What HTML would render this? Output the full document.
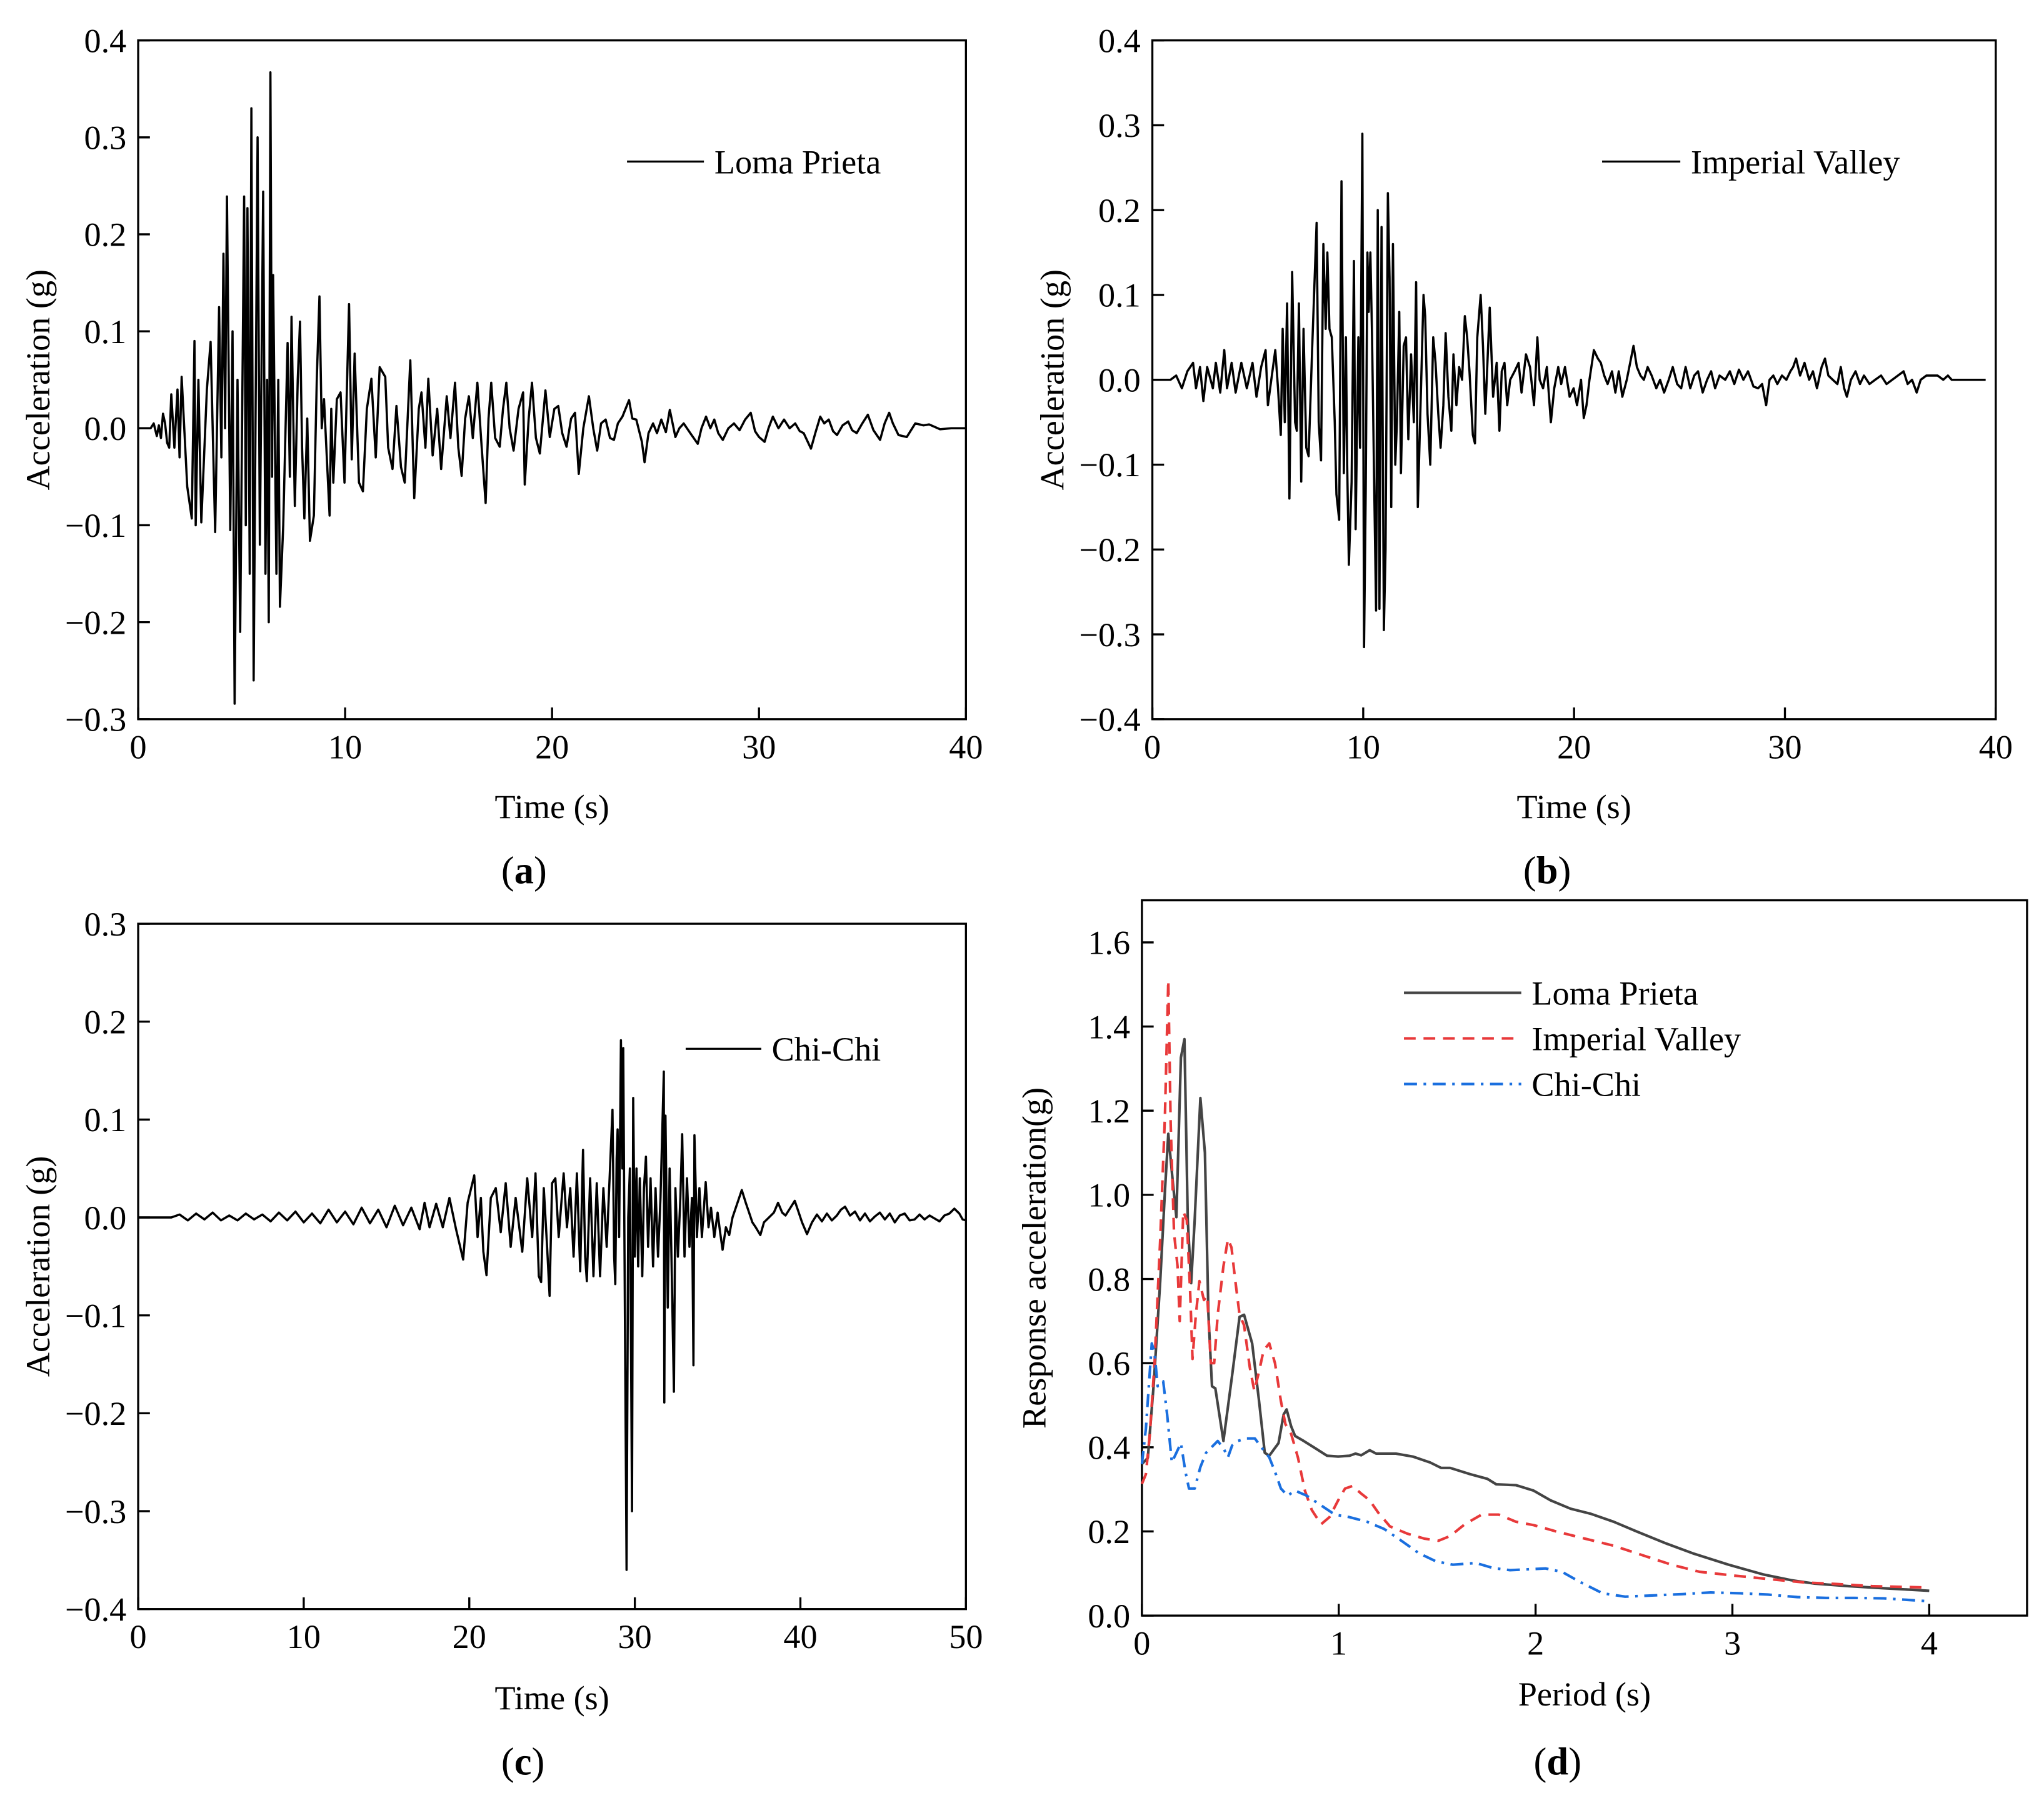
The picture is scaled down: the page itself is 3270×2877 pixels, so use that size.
<!DOCTYPE html>
<html><head><meta charset="utf-8"><style>
html,body{margin:0;padding:0;background:#fff;}
svg{display:block;}
text{font-family:"Liberation Serif",serif;fill:#000;}
</style></head><body>
<svg id="fig" xmlns="http://www.w3.org/2000/svg" width="3270" height="2877" viewBox="0 0 1568 1380" preserveAspectRatio="none">
<rect width="1568" height="1380" fill="#fff"/>
</svg>
<script>
// ---- Panel (a) Loma Prieta ----
const laTime=[0,0.6,0.75,0.9,1.0,1.1,1.2,1.3,1.4,1.5,1.6,1.75,1.9,2.0,2.10,2.37,2.59,2.72,2.78,2.91,3.05,3.32,3.50,3.72,3.91,4.02,4.12,4.20,4.29,4.45,4.56,4.66,4.80,4.93,5.12,5.20,5.28,5.39,5.47,5.58,5.77,5.88,6.04,6.15,6.23,6.31,6.39,6.47,6.52,6.68,6.77,6.85,7.01,7.22,7.33,7.41,7.57,7.71,7.82,7.92,8.03,8.17,8.30,8.49,8.63,8.76,8.87,8.98,9.25,9.33,9.43,9.60,9.78,9.97,10.19,10.32,10.46,10.67,10.86,11.05,11.27,11.48,11.67,11.94,12.08,12.29,12.48,12.70,12.88,13.15,13.34,13.56,13.69,13.88,14.02,14.23,14.45,14.64,14.91,15.09,15.31,15.47,15.63,15.80,15.98,16.17,16.39,16.60,16.79,16.93,17.06,17.25,17.47,17.63,17.79,17.95,18.14,18.38,18.60,18.68,18.87,19.03,19.22,19.41,19.68,19.89,20.11,20.30,20.49,20.70,20.92,21.11,21.29,21.51,21.78,21.99,22.18,22.37,22.59,22.80,22.99,23.18,23.40,23.72,23.88,24.07,24.34,24.47,24.66,24.88,25.07,25.28,25.50,25.69,25.96,26.15,26.36,26.68,27.04,27.22,27.44,27.65,27.84,28.03,28.25,28.52,28.79,29.06,29.33,29.60,29.81,30.00,30.27,30.46,30.67,30.94,31.21,31.48,31.75,31.97,32.16,32.51,32.72,32.96,33.15,33.37,33.58,33.77,34.04,34.31,34.50,34.72,34.99,35.26,35.53,35.85,36.07,36.29,36.47,36.74,37.14,37.55,37.95,38.22,38.75,39.29,40.0];
const laAcc=[0,0,0.005,-0.008,0.003,-0.01,0.015,0.005,-0.015,-0.02,0.035,-0.02,0.04,-0.03,0.053,-0.06,-0.093,0.09,-0.10,0.05,-0.097,0.04,0.089,-0.107,0.125,-0.03,0.18,0.0,0.239,-0.105,0.1,-0.284,0.05,-0.21,0.239,-0.1,0.227,-0.15,0.33,-0.26,0.30,-0.12,0.244,-0.15,0.05,-0.2,0.367,-0.05,0.158,-0.15,0.05,-0.184,-0.1,0.088,-0.05,0.115,-0.08,0.05,0.11,-0.02,-0.093,0.01,-0.116,-0.09,0.05,0.136,0.0,0.03,-0.09,0.02,-0.056,0.03,0.037,-0.056,0.128,-0.032,0.077,-0.056,-0.065,0.02,0.051,-0.03,0.063,0.053,-0.02,-0.042,0.023,-0.04,-0.056,0.07,-0.072,0.02,0.037,-0.02,0.051,-0.028,0.02,-0.042,0.033,-0.01,0.047,-0.02,-0.049,0.01,0.033,-0.01,0.047,-0.02,-0.077,0.01,0.047,-0.01,-0.019,0.02,0.047,0.0,-0.023,0.02,0.037,-0.058,0.01,0.047,-0.01,-0.026,0.039,-0.009,0.02,0.023,-0.005,-0.019,0.01,0.016,-0.047,0.0,0.033,0.0,-0.023,0.005,0.009,-0.01,-0.012,0.005,0.012,0.029,0.01,0.009,-0.014,-0.035,-0.005,0.005,-0.005,0.009,-0.004,0.019,-0.009,0.0,0.005,-0.005,-0.016,0.0,0.012,0.0,0.009,-0.005,-0.012,0.0,0.005,-0.002,0.009,0.016,-0.003,-0.009,-0.014,0.0,0.012,0.0,0.009,0.0,0.005,-0.003,-0.005,-0.021,-0.005,0.012,0.005,0.009,-0.003,-0.007,0.003,0.007,-0.002,-0.005,0.005,0.014,-0.002,-0.012,0.005,0.016,0.005,-0.007,-0.009,0.005,0.003,0.004,-0.001,0.0,0.0];
const laYTicks=[-0.3,-0.2,-0.1,0.0,0.1,0.2,0.3,0.4];
const laYLabels=["\u22120.3","\u22120.2","\u22120.1","0.0","0.1","0.2","0.3","0.4"];
const laXTicks=[0,10,20,30,40];

// ---- Panel (b) Imperial Valley ----
const ivTime=[0,0.86,1.13,1.40,1.66,1.93,2.07,2.26,2.42,2.60,2.87,3.01,3.22,3.41,3.54,3.76,3.95,4.22,4.48,4.75,4.94,5.16,5.37,5.48,5.64,5.83,5.96,6.09,6.18,6.28,6.39,6.50,6.63,6.77,6.85,6.95,7.06,7.17,7.30,7.41,7.57,7.79,7.89,8.00,8.11,8.22,8.30,8.40,8.51,8.65,8.73,8.86,8.97,9.08,9.18,9.24,9.32,9.45,9.56,9.64,9.77,9.85,9.96,10.04,10.12,10.20,10.26,10.34,10.42,10.53,10.61,10.69,10.77,10.87,10.98,11.06,11.17,11.25,11.33,11.41,11.52,11.60,11.71,11.79,11.92,12.03,12.14,12.27,12.40,12.51,12.59,12.73,12.86,12.94,13.05,13.18,13.32,13.43,13.56,13.67,13.80,13.91,14.04,14.18,14.28,14.42,14.55,14.69,14.82,14.93,15.04,15.20,15.30,15.41,15.57,15.68,15.79,15.90,16.00,16.16,16.33,16.46,16.57,16.70,16.83,16.97,17.18,17.37,17.51,17.72,17.91,18.10,18.26,18.37,18.53,18.71,18.90,19.06,19.25,19.39,19.57,19.79,19.98,20.14,20.33,20.46,20.59,20.73,20.94,21.13,21.27,21.43,21.59,21.80,21.96,22.12,22.29,22.50,22.66,22.82,22.98,23.15,23.31,23.49,23.68,23.90,24.08,24.27,24.49,24.68,24.89,25.08,25.29,25.51,25.70,25.88,26.10,26.31,26.50,26.69,26.90,27.17,27.39,27.60,27.82,28.03,28.25,28.51,28.73,28.92,29.11,29.27,29.45,29.64,29.86,30.07,30.26,30.39,30.53,30.72,30.93,31.15,31.33,31.52,31.74,31.90,32.06,32.27,32.49,32.65,32.81,32.94,33.13,33.35,33.56,33.75,34.01,34.28,34.56,34.82,35.09,35.36,35.63,35.82,36.03,36.25,36.44,36.71,36.97,37.24,37.51,37.73,37.91,38.31,38.72,39.52];
const ivAcc=[0,0,0.005,-0.01,0.01,0.02,-0.01,0.015,-0.025,0.015,-0.01,0.02,-0.015,0.035,-0.01,0.02,-0.015,0.02,-0.01,0.02,-0.02,0.015,0.035,-0.03,0.0,0.035,-0.01,-0.065,0.06,-0.05,0.09,-0.14,0.127,-0.05,-0.06,0.09,-0.12,0.06,-0.08,-0.09,0.03,0.185,-0.05,-0.095,0.16,0.06,0.15,0.06,0.05,-0.05,-0.135,-0.165,0.234,-0.11,0.05,-0.1,-0.218,-0.12,0.14,-0.176,0.05,-0.08,0.29,-0.315,-0.13,0.15,0.08,0.15,0.05,-0.14,-0.272,0.2,-0.27,0.18,-0.295,-0.2,0.22,0.12,-0.15,0.16,-0.1,-0.05,0.08,-0.11,0.04,0.05,-0.07,0.03,-0.05,0.115,-0.15,-0.02,0.1,0.075,-0.04,-0.1,0.05,0.02,-0.04,-0.08,-0.03,0.055,-0.02,-0.06,0.03,-0.03,0.015,0.0,0.075,0.05,0.01,-0.065,-0.075,0.05,0.1,0.04,-0.04,0.025,0.085,-0.02,0.02,-0.06,0.01,0.02,-0.03,0.0,0.01,0.02,-0.015,0.03,0.015,-0.03,0.05,0.0,-0.01,0.015,-0.05,-0.01,0.015,-0.005,0.015,-0.02,-0.01,-0.03,0.0,-0.045,-0.03,0.0,0.035,0.025,0.02,0.005,-0.005,0.01,-0.015,0.01,-0.02,0.0,0.02,0.04,0.015,0.005,0.0,0.015,0.005,-0.01,0.0,-0.015,0.0,0.015,-0.005,-0.01,0.015,-0.01,0.005,0.01,-0.015,0.0,0.01,-0.01,0.005,0.0,0.01,-0.005,0.012,0.0,0.01,-0.008,-0.01,-0.005,-0.03,0.0,0.005,-0.005,0.005,0.0,0.01,0.015,0.025,0.005,0.02,0.0,0.01,-0.01,0.015,0.025,0.005,0.0,-0.005,0.015,-0.01,-0.02,0.0,0.01,-0.005,0.005,-0.005,0.0,0.005,-0.005,0.0,0.005,0.01,-0.005,0.0,-0.015,0.0,0.005,0.005,0.005,0.0,0.005,0.0,0.0,0.0,0.0];
const ivYTicks=[-0.4,-0.3,-0.2,-0.1,0.0,0.1,0.2,0.3,0.4];
const ivYLabels=["\u22120.4","\u22120.3","\u22120.2","\u22120.1","0.0","0.1","0.2","0.3","0.4"];
const ivXTicks=[0,10,20,30,40];

// ---- Panel (c) Chi-Chi ----
const ccTime=[0,2,2.5,3,3.5,4,4.5,5,5.5,6,6.5,7,7.5,8,8.5,9,9.5,10,10.5,11,11.5,12,12.5,13,13.5,14,14.5,15,15.5,16,16.5,17,17.3,17.6,18,18.4,18.8,19.2,19.63,19.9,20.3,20.5,20.7,20.85,21.04,21.3,21.6,21.9,22.2,22.5,22.8,23.2,23.5,23.8,24.0,24.2,24.34,24.5,24.7,24.85,25.0,25.2,25.4,25.7,25.9,26.1,26.3,26.5,26.7,26.87,27.0,27.1,27.3,27.5,27.7,27.9,28.1,28.3,28.5,28.65,28.75,28.82,28.9,28.96,29.05,29.16,29.25,29.3,29.4,29.5,29.6,29.7,29.83,29.9,30.0,30.1,30.2,30.3,30.45,30.55,30.67,30.8,30.95,31.1,31.25,31.4,31.55,31.75,31.78,31.85,31.99,32.1,32.2,32.36,32.45,32.6,32.75,32.86,33.0,33.15,33.3,33.45,33.54,33.6,33.75,33.9,34.05,34.28,34.45,34.6,34.8,35.0,35.15,35.3,35.5,35.7,35.9,36.2,36.46,36.7,36.9,37.1,37.3,37.58,37.8,38.1,38.4,38.65,38.9,39.1,39.4,39.66,39.9,40.1,40.4,40.7,41.0,41.3,41.6,41.9,42.2,42.45,42.7,43.0,43.3,43.6,43.9,44.2,44.5,44.8,45.1,45.4,45.7,46.0,46.3,46.6,46.9,47.2,47.5,47.8,48.1,48.4,48.7,49.0,49.3,49.6,49.8,50];
const ccAcc=[0,0,0.003,-0.003,0.004,-0.002,0.005,-0.003,0.002,-0.003,0.004,-0.002,0.003,-0.004,0.005,-0.003,0.006,-0.005,0.004,-0.006,0.008,-0.005,0.006,-0.007,0.01,-0.006,0.008,-0.01,0.012,-0.008,0.01,-0.012,0.015,-0.01,0.014,-0.01,0.02,-0.012,-0.043,0.015,0.043,-0.02,0.02,-0.035,-0.059,0.02,0.03,-0.015,0.035,-0.03,0.02,-0.035,0.04,-0.02,0.045,-0.06,-0.066,0.03,-0.03,-0.08,0.035,0.04,-0.02,0.045,-0.01,0.03,-0.04,0.045,-0.055,0.069,-0.04,-0.065,0.04,-0.06,0.035,-0.06,0.03,-0.03,0.05,0.11,-0.04,-0.068,0.06,0.09,-0.02,0.181,0.05,0.173,-0.1,-0.36,0.0,0.05,-0.30,0.122,-0.04,0.05,-0.05,0.04,-0.06,0.03,0.062,-0.03,0.04,-0.05,0.03,-0.04,0.02,0.149,-0.189,0.104,-0.092,0.05,-0.03,-0.178,0.03,-0.04,0.02,0.085,-0.04,0.04,-0.03,0.02,-0.151,0.084,-0.02,0.03,-0.02,0.036,-0.01,0.01,-0.02,0.005,-0.015,-0.033,-0.01,-0.018,0.0,0.015,0.028,0.015,0.005,-0.005,-0.01,-0.018,-0.005,0.0,0.005,0.015,0.005,0.002,0.01,0.017,0.005,-0.005,-0.017,-0.005,0.003,-0.004,0.004,-0.003,0.002,0.008,0.011,0.002,0.006,-0.003,0.004,-0.004,0.001,0.005,-0.002,0.004,-0.005,0.002,0.004,-0.003,-0.002,0.003,-0.002,0.002,-0.001,-0.004,0.002,0.004,0.009,0.004,-0.002,-0.003];
const ccYTicks=[-0.4,-0.3,-0.2,-0.1,0.0,0.1,0.2,0.3];
const ccYLabels=["\u22120.4","\u22120.3","\u22120.2","\u22120.1","0.0","0.1","0.2","0.3"];
const ccXTicks=[0,10,20,30,40,50];

// ---- Panel (d) Response spectra ----
const lpPeriod=[0,0.03,0.06,0.093,0.117,0.134,0.157,0.175,0.198,0.216,0.233,0.25,0.268,0.297,0.32,0.338,0.356,0.373,0.414,0.458,0.496,0.519,0.56,0.595,0.624,0.647,0.694,0.72,0.735,0.758,0.778,0.822,0.88,0.94,0.997,1.055,1.085,1.114,1.157,1.19,1.29,1.376,1.464,1.52,1.566,1.668,1.755,1.8,1.9,1.99,2.076,2.178,2.28,2.397,2.513,2.66,2.805,2.98,3.155,3.3,3.417,3.59,3.77,4.0];
const lpSa=[0.36,0.375,0.55,0.795,1.01,1.145,1.03,0.947,1.326,1.37,0.94,0.79,0.94,1.23,1.1,0.715,0.545,0.54,0.415,0.57,0.71,0.715,0.647,0.51,0.387,0.38,0.41,0.478,0.49,0.45,0.427,0.415,0.398,0.38,0.378,0.38,0.385,0.381,0.393,0.385,0.385,0.378,0.364,0.351,0.351,0.336,0.325,0.312,0.31,0.297,0.274,0.254,0.242,0.223,0.2,0.172,0.147,0.121,0.098,0.084,0.076,0.07,0.065,0.059];
const ivPeriod=[0,0.02,0.04,0.064,0.093,0.117,0.134,0.146,0.163,0.181,0.192,0.21,0.228,0.245,0.257,0.274,0.292,0.315,0.332,0.35,0.367,0.385,0.414,0.437,0.455,0.472,0.496,0.519,0.548,0.571,0.595,0.618,0.647,0.676,0.706,0.729,0.758,0.793,0.828,0.863,0.91,0.953,0.997,1.032,1.07,1.114,1.157,1.2,1.26,1.347,1.434,1.507,1.566,1.64,1.726,1.813,1.9,1.99,2.105,2.25,2.397,2.54,2.69,2.834,3.01,3.18,3.36,3.53,3.71,3.88,3.97];
const ivSa=[0.313,0.336,0.43,0.60,0.895,1.19,1.51,1.17,0.91,0.83,0.70,0.96,0.94,0.77,0.61,0.715,0.795,0.75,0.76,0.60,0.60,0.715,0.83,0.895,0.875,0.805,0.715,0.69,0.59,0.534,0.58,0.63,0.647,0.60,0.51,0.455,0.432,0.375,0.297,0.251,0.217,0.234,0.274,0.302,0.308,0.29,0.274,0.245,0.212,0.195,0.183,0.178,0.189,0.217,0.24,0.24,0.223,0.215,0.2,0.183,0.166,0.144,0.121,0.104,0.095,0.087,0.079,0.075,0.07,0.068,0.067];
const chPeriod=[0,0.02,0.035,0.05,0.064,0.08,0.108,0.128,0.152,0.175,0.198,0.221,0.239,0.268,0.297,0.326,0.385,0.414,0.437,0.458,0.487,0.531,0.574,0.6,0.647,0.676,0.706,0.74,0.778,0.837,0.91,0.98,1.055,1.143,1.23,1.318,1.405,1.493,1.58,1.697,1.784,1.87,1.96,2.05,2.134,2.222,2.34,2.455,2.6,2.746,2.89,3.04,3.18,3.33,3.476,3.62,3.77,4.0];
const chSa=[0.36,0.444,0.545,0.647,0.625,0.545,0.557,0.478,0.364,0.387,0.41,0.342,0.302,0.302,0.353,0.387,0.415,0.398,0.376,0.404,0.415,0.421,0.421,0.404,0.376,0.342,0.302,0.285,0.297,0.285,0.262,0.24,0.234,0.223,0.206,0.178,0.149,0.129,0.121,0.125,0.113,0.108,0.11,0.112,0.104,0.081,0.053,0.045,0.048,0.051,0.055,0.053,0.05,0.044,0.042,0.042,0.041,0.034];
const spYTicks=[0,0.2,0.4,0.6,0.8,1.0,1.2,1.4,1.6];
const spYLabels=["0.0","0.2","0.4","0.6","0.8","1.0","1.2","1.4","1.6"];
const spXTicks=[0,1,2,3,4];

const NS="http://www.w3.org/2000/svg";
const svg=document.getElementById('fig');
function mk(tag,attrs,parent){const e=document.createElementNS(NS,tag);for(const k in attrs)e.setAttribute(k,attrs[k]);(parent||svg).appendChild(e);return e;}
function txt(s,x,y,size,anchor,parent){const t=mk('text',{x:x,y:y,'font-size':size,'text-anchor':anchor||'middle'},parent);t.textContent=s;return t;}

function panel(id,box,xr,yr,xt,yt,ylab,xtitle,ytitle,ytitleX,letter,titleOff,letterOff){
  const g=mk('g',{});
  
  
  const sx=v=>box.x0+(v-xr[0])/(xr[1]-xr[0])*(box.x1-box.x0);
  const sy=v=>box.y1-(v-yr[0])/(yr[1]-yr[0])*(box.y1-box.y0);
  const frame=mk('rect',{x:box.x0,y:box.y0,width:box.x1-box.x0,height:box.y1-box.y0,fill:'none',stroke:'#000','stroke-width':1.6},g);
  
  
  const xa=mk('g',{},g);
  
  
  xt.forEach(v=>{const x=sx(v);mk('line',{x1:x,x2:x,y1:box.y1,y2:box.y1-9,stroke:'#000','stroke-width':1.6},xa);
    const t=txt(String(v),x,box.y1+30,26,'middle',xa);
    
    });
  const ya=mk('g',{},g);
  
  
  yt.forEach((v,i)=>{const y=sy(v);mk('line',{x1:box.x0,x2:box.x0+9,y1:y,y2:y,stroke:'#000','stroke-width':1.6},ya);
    const t=txt(ylab[i],box.x0-9,y+9,26,'end',ya);
    
    });
  const xtl=txt(xtitle,(box.x0+box.x1)/2,box.y1+titleOff,26,'middle',g);
  
  
  const cy=(box.y0+box.y1)/2;
  const ytl=mk('text',{x:ytitleX,y:cy,'font-size':26,'text-anchor':'middle',transform:'rotate(-90 '+ytitleX+' '+cy+')'},g);
  ytl.textContent=ytitle;
  
  
  const lt=mk('text',{x:(box.x0+box.x1)/2-39,y:box.y1+letterOff,'font-size':30},g);
  
  
  lt.innerHTML='(<tspan font-weight="bold">'+letter+'</tspan>)';
  return {g,sx,sy};
}
function series(p,xs,ys,name,color,width,dash){
  const d=xs.map((x,i)=>(i?'L':'M')+p.sx(x).toFixed(2)+' '+p.sy(ys[i]).toFixed(2)).join(' ');
  const path=mk('path',{d:d,fill:'none',stroke:color,'stroke-width':width,'stroke-linejoin':'round'},p.g);
  if(dash)path.setAttribute('stroke-dasharray',dash);
  
  
}
function legend(p,x0,x1,y,label,color,dash,name,width){
  const g=mk('g',{},p.g);
  
  
  const l=mk('line',{x1:x0,x2:x1,y1:y,y2:y,stroke:color,'stroke-width':width||1.6},g);
  if(dash)l.setAttribute('stroke-dasharray',dash);
  txt(label,x1+8,y+9,26,'start',g);
}

const pa=panel('panel-a',{x0:106,x1:741,y0:31,y1:552},[0,40],[-0.3,0.4],laXTicks,laYTicks,laYLabels,'Time (s)','Acceleration (g)',38,'a',76,126);
series(pa,laTime,laAcc,'loma-prieta-trace','#000',1.7);
legend(pa,481,540,124,'Loma Prieta','#000',null,'legend-entry-loma-prieta');

const pb=panel('panel-b',{x0:884,x1:1531,y0:31,y1:552},[0,40],[-0.4,0.4],ivXTicks,ivYTicks,ivYLabels,'Time (s)','Acceleration (g)',816,'b',76,126);
series(pb,ivTime,ivAcc,'imperial-valley-trace','#000',1.7);
legend(pb,1229,1289,124,'Imperial Valley','#000',null,'legend-entry-imperial-valley');

const pc=panel('panel-c',{x0:106,x1:741,y0:709,y1:1235},[0,50],[-0.4,0.3],ccXTicks,ccYTicks,ccYLabels,'Time (s)','Acceleration (g)',38,'c',77,127);
series(pc,ccTime,ccAcc,'chi-chi-trace','#000',1.7);
legend(pc,526,584,805,'Chi-Chi','#000',null,'legend-entry-chi-chi');

const pd=panel('panel-d',{x0:876,x1:1555,y0:691,y1:1240},[0,4.497],[0,1.7],spXTicks,spYTicks,spYLabels,'Period (s)','Response acceleration(g)',802,'d',69,122);
series(pd,lpPeriod,lpSa,'loma-prieta-spectrum','#444',2);
series(pd,ivPeriod,ivSa,'imperial-valley-spectrum','#e8393a',2,'9 6');
series(pd,chPeriod,chSa,'chi-chi-spectrum','#1a6fdf',2,'10 5 2 5');
legend(pd,1077,1167,762,'Loma Prieta','#444',null,'legend-entry-loma-prieta-spectrum',2);
legend(pd,1077,1167,797,'Imperial Valley','#e8393a','9 6','legend-entry-imperial-valley-spectrum',2);
legend(pd,1077,1167,832,'Chi-Chi','#1a6fdf','10 5 2 5','legend-entry-chi-chi-spectrum',2);
</script>
</body></html>
